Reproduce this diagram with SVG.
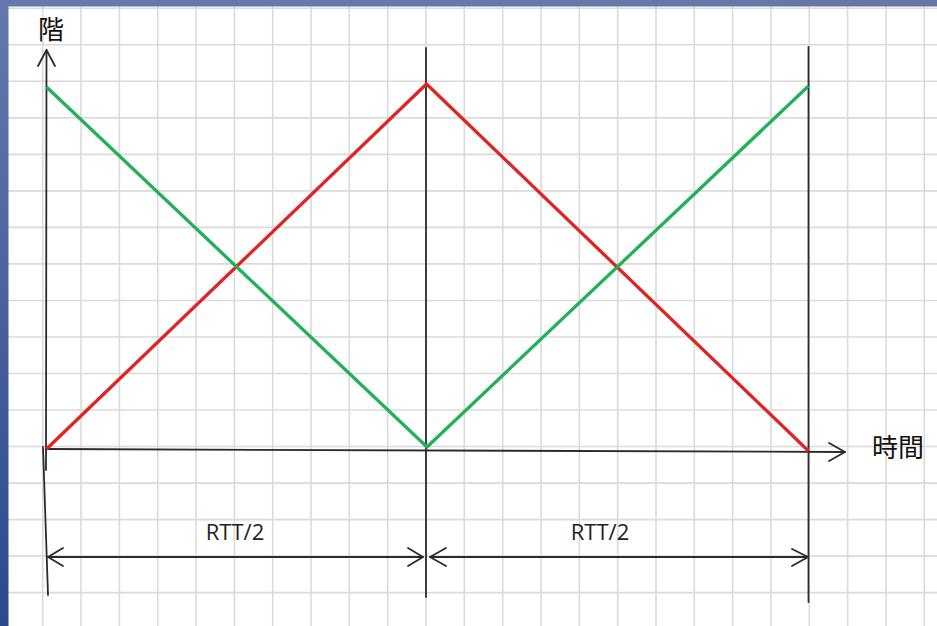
<svg xmlns="http://www.w3.org/2000/svg" width="937" height="626" viewBox="0 0 937 626">
<defs>
<linearGradient id="lb" x1="0" y1="0" x2="0" y2="1">
<stop offset="0" stop-color="#6679ae"/>
<stop offset="1" stop-color="#2c4a8c"/>
</linearGradient>
<linearGradient id="tb" x1="0" y1="0" x2="1" y2="0">
<stop offset="0" stop-color="#6679ae"/>
<stop offset="1" stop-color="#6676aa"/>
</linearGradient>
</defs>
<style>
.grid{stroke:#dadada;stroke-width:1.6;fill:none}
.ax{stroke:#2b2b2b;stroke-width:1.8;fill:none;stroke-linecap:round;stroke-linejoin:round}
.red{stroke:#e02424;stroke-width:3.3;fill:none;stroke-linejoin:round}
.green{stroke:#22b05a;stroke-width:3.3;fill:none;stroke-linejoin:round}
.cjk{font-family:"Noto Sans CJK JP","Noto Sans CJK SC",sans-serif;font-size:26px;fill:#111}
.lbl{font-family:"Open Sans","Liberation Sans",sans-serif;font-size:22px;fill:#222}
</style>
<rect x="0" y="0" width="937" height="626" fill="#ffffff"/>
<g id="grid">
<path class="grid" d="M4.4 0V626M42.7 0V626M81 0V626M119.4 0V626M157.7 0V626M196 0V626M234.4 0V626M272.7 0V626M311 0V626M349.3 0V626M387.7 0V626M426 0V626M464.3 0V626M502.7 0V626M541 0V626M579.3 0V626M617.7 0V626M656 0V626M694.3 0V626M732.6 0V626M771 0V626M809.3 0V626M847.6 0V626M886 0V626M924.3 0V626"/>
<path class="grid" d="M0 8.3H937M0 44.8H937M0 81.3H937M0 117.9H937M0 154.4H937M0 190.9H937M0 227.4H937M0 263.9H937M0 300.5H937M0 337H937M0 373.5H937M0 410H937M0 446.5H937M0 483.1H937M0 519.6H937M0 556.1H937M0 592.6H937"/>
</g>
<g id="borders">
<rect x="0" y="0" width="937" height="6.5" fill="url(#tb)"/>
<rect x="0" y="0" width="8.5" height="626" fill="url(#lb)"/>
</g>
<g id="connectors">
<path class="ax" d="M46.5 50L46 470"/>
<polyline class="ax" points="38,66 46.5,50 55,66"/>
<path class="ax" d="M46 449L845 452"/>
<polyline class="ax" points="829,443 845,452 829,461"/>
<path class="ax" d="M426 48V597"/>
<path class="ax" d="M808.5 47V602"/>
<path class="ax" d="M43 447L48 595"/>
<path class="ax" d="M48 557H423"/>
<polyline class="ax" points="63,548 48,557 63,566"/>
<polyline class="ax" points="408,548 423,557 408,566"/>
<path class="ax" d="M430 557H808"/>
<polyline class="ax" points="446,548 430,557 446,566"/>
<polyline class="ax" points="792,549 808,557 792,566"/>
</g>
<g id="red-series">
<polyline class="red" points="46.5,449 426.5,84 808.5,451"/>
</g>
<g id="green-series">
<polyline class="green" points="46.5,87 427,447 808.5,86"/>
</g>
<g id="labels">
<text class="cjk" x="51" y="39" text-anchor="middle">階</text>
<text class="cjk" x="898" y="457" text-anchor="middle">時間</text>
<text class="lbl" x="235" y="540" text-anchor="middle">RTT/2</text>
<text class="lbl" x="600" y="540" text-anchor="middle">RTT/2</text>
</g>
</svg>
